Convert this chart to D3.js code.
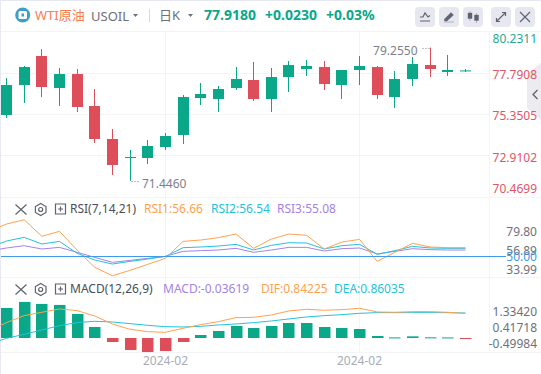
<!DOCTYPE html>
<html>
<head>
<meta charset="utf-8">
<script src="https://cdn.jsdelivr.net/npm/d3@7"></script>
<style>
  html, body { margin: 0; padding: 0; background: #fff; overflow: hidden; }
  text { font-family: "Noto Sans", "Noto Sans CJK SC", sans-serif; }
</style>
</head>
<body>
<div id="chart"></div>
<script>
// Candles: one entry per daily bar
const opens  = [75.303, 77.062, 78.763, 76.886, 77.707, 75.831, 73.895, 72.781, 72.781, 73.426, 74.130, 76.300, 76.241, 76.886, 77.356, 76.241, 77.532, 78.001, 78.118, 77.062, 77.942, 78.118, 76.358, 77.414, 78.235, 77.825, 77.895];
const highs  = [77.473, 78.177, 79.174, 78.059, 78.001, 76.828, 74.482, 73.250, 73.837, 74.247, 76.476, 77.180, 77.004, 78.118, 78.411, 78.059, 78.470, 78.529, 78.470, 77.942, 78.763, 78.177, 77.883, 78.705, 79.255, 78.822, 78.001];
const lows   = [75.127, 76.007, 76.358, 75.831, 75.479, 73.661, 71.784, 71.446, 72.429, 73.250, 73.602, 75.889, 75.479, 76.769, 76.124, 75.479, 76.652, 77.590, 76.769, 76.241, 77.062, 76.241, 75.713, 77.004, 77.532, 77.590, 77.825];
const closes = [77.062, 78.118, 76.945, 77.707, 75.772, 73.895, 72.370, 72.839, 73.485, 74.071, 76.358, 76.534, 76.828, 77.414, 76.241, 77.532, 78.235, 78.177, 77.121, 77.942, 78.177, 76.476, 77.414, 78.294, 78.001, 77.942, 77.918];

// Indicators have one extra leading value, the bar just off the left edge
const rsi1 = [80.6, 89.4, 94.6, 74.6, 80.6, 58.1, 37.2, 27.1, 33.6, 40.8, 48.0, 68.5, 70.1, 73.0, 77.4, 60.1, 71.3, 77.4, 75.8, 59.3, 67.7, 70.9, 44.4, 55.3, 66.1, 61.7, 60.9, 60.9];
const rsi2 = [60.9, 68.9, 73.4, 65.3, 68.5, 54.1, 46.0, 41.2, 44.4, 47.2, 50.4, 60.9, 61.7, 62.9, 64.9, 58.1, 63.7, 66.9, 66.5, 59.3, 63.3, 64.9, 52.9, 57.3, 62.5, 60.5, 60.1, 60.1];
const rsi3 = [56.9, 60.5, 63.3, 59.3, 61.3, 55.3, 49.2, 43.2, 45.6, 48.0, 50.4, 56.5, 57.3, 58.1, 60.1, 55.3, 58.1, 61.3, 61.3, 56.9, 59.7, 60.5, 53.3, 56.5, 59.7, 58.5, 58.1, 58.1];
const dif  = [0.241, 0.529, 0.770, 0.885, 1.000, 0.942, 0.758, 0.483, 0.299, 0.218, 0.195, 0.333, 0.460, 0.563, 0.701, 0.712, 0.793, 0.931, 0.988, 0.954, 0.977, 1.023, 0.896, 0.885, 0.908, 0.908, 0.885, 0.84225];
const dea  = [-0.207, -0.011, 0.126, 0.276, 0.425, 0.529, 0.575, 0.552, 0.494, 0.437, 0.391, 0.379, 0.402, 0.448, 0.483, 0.529, 0.586, 0.655, 0.724, 0.770, 0.804, 0.850, 0.873, 0.873, 0.873, 0.873, 0.873, 0.86035];
const macd = [1.034, 1.241, 1.172, 1.138, 0.827, 0.379, -0.138, -0.414, -0.483, -0.448, -0.138, 0.103, 0.241, 0.414, 0.345, 0.414, 0.517, 0.517, 0.379, 0.345, 0.310, 0.069, 0.02, 0.057, 0.023, 0.02, -0.03619];

// Axis labels
const priceTicks = [80.2311, 77.7908, 75.3505, 72.9102, 70.4699];
const rsiTicks = [79.80, 56.89, 33.99];
const macdTicks = [1.33420, 0.41718, -0.49984];
const dateBars = [9, 20];
const dateLabels = ['2024-02', '2024-02'];

const GREEN = '#0aa789', RED = '#dd4d5a', ORANGE = '#ffa24f', CYAN = '#25c2dd', PURPLE = '#a582ea';
const GRID = '#f3f4f8', ICON = '#5f636f';
const W = 541, H = 374;

const svg = d3.select('#chart').append('svg')
    .attr('width', W)
    .attr('height', H)
    .style('display', 'block');

// Scales
const x = d3.scaleLinear().domain([0, 26]).range([6.5, 465.5]);
const y = d3.scaleLinear().domain([70.4699, 80.2311]).range([197.4, 31]);
const yRsi = d3.scaleLinear().domain([33.99, 79.80]).range([270, 232]);
const yMacd = d3.scaleLinear().domain([0, 0.86035]).range([338, 313]);
const yMacdLabel = d3.scaleLinear().domain([-0.49984, 1.33420]).range([344, 311.7]);
const px = i => Math.floor(x(i)) + 0.5;

// Frame and grid
svg.append('rect').attr('x', 0).attr('y', 0).attr('width', W).attr('height', 1).attr('fill', '#e6e9f3');
svg.append('rect').attr('x', 0).attr('y', 0).attr('width', 1).attr('height', H).attr('fill', '#e6e9f3');

const hLine = (yy, x2) => svg.append('line')
    .attr('x1', 1).attr('x2', x2).attr('y1', yy).attr('y2', yy)
    .attr('stroke', GRID).attr('stroke-width', 1);
[31.5, 197.5, 277.5, 352.5].forEach(v => hLine(v, W));
[73.5, 114.5, 155.5].forEach(v => hLine(v, 489.5));

dateBars.concat([null]).forEach(b => {
    const xx = b === null ? 489.5 : px(b);
    svg.append('line')
        .attr('x1', xx).attr('x2', xx).attr('y1', 32).attr('y2', 352)
        .attr('stroke', GRID);
});

// Candles
const candles = svg.append('g').selectAll('g')
    .data(d3.range(opens.length))
    .enter()
    .append('g')
    .attr('fill', i => closes[i] >= opens[i] ? GREEN : RED)
    .attr('stroke', i => closes[i] >= opens[i] ? GREEN : RED);

candles.append('line')
    .attr('x1', px).attr('x2', px)
    .attr('y1', i => y(highs[i]))
    .attr('y2', i => y(lows[i]));

candles.append('rect')
    .attr('stroke', 'none')
    .attr('x', i => px(i) - 5.5)
    .attr('width', 11)
    .attr('y', i => y(Math.max(opens[i], closes[i])))
    .attr('height', i => Math.max(1, Math.abs(y(opens[i]) - y(closes[i]))));

// High and low markers
const marker = (bar, value, text, side, gap) => {
    const xx = px(bar), yy = Math.round(y(value)) + 0.5;
    svg.append('line')
        .attr('x1', xx + side).attr('x2', xx + side * 10)
        .attr('y1', yy).attr('y2', yy)
        .attr('stroke', '#7c7f8b').attr('stroke-dasharray', '1,2');
    svg.append('text')
        .attr('x', xx + side * gap)
        .attr('y', yy + 6)
        .attr('text-anchor', side > 0 ? 'start' : 'end')
        .attr('fill', '#7c7f8b')
        .style('font-size', '12px')
        .text(text);
};
marker(24, highs[24], highs[24].toFixed(4), -1, 13);
marker(7, lows[7], lows[7].toFixed(4), 1, 11.5);

// Collapse tab on the right edge, sits behind the labels
svg.append('path')
    .attr('d', 'M541,63 L527,74 L527,108 L541,120 Z')
    .attr('fill', '#ebebf0');
svg.append('path')
    .attr('d', 'M537.5,90 L533,94.5 L537.5,99')
    .attr('fill', 'none').attr('stroke', ICON).attr('stroke-width', 1.3);

// Price axis labels, clamped to stay inside the pane
svg.append('g').selectAll('text')
    .data(priceTicks)
    .enter()
    .append('text')
    .attr('x', 537)
    .attr('y', d => Math.min(189, Math.max(39, y(d) + 2)) + 4)
    .attr('text-anchor', 'end')
    .attr('fill', d => d > 78 ? '#26a98f' : '#df5664')
    .style('font-size', '12px')
    .text(d => d.toFixed(4));

// Indicator lines
const lineOf = scale => d3.line().x((d, i) => x(i - 1)).y(d => scale(d));
const drawLine = (values, scale, color) => svg.append('path')
    .attr('d', lineOf(scale)(values))
    .attr('fill', 'none')
    .attr('stroke', color)
    .attr('stroke-width', 1);

// RSI pane
drawLine(rsi3, yRsi, PURPLE);
drawLine(rsi2, yRsi, CYAN);
drawLine(rsi1, yRsi, ORANGE);
svg.append('line')
    .attr('x1', 1).attr('x2', 506)
    .attr('y1', 256.5).attr('y2', 256.5)
    .attr('stroke', '#3f9bea');

svg.append('g').selectAll('text')
    .data(rsiTicks)
    .enter()
    .append('text')
    .attr('x', 537)
    .attr('y', d => yRsi(d) + 4)
    .attr('text-anchor', 'end')
    .attr('fill', '#6e717c')
    .style('font-size', '12px')
    .text(d => d.toFixed(2));
svg.append('text')
    .attr('x', 537).attr('y', yRsi(50) + 4)
    .attr('text-anchor', 'end')
    .attr('fill', '#3f9bea')
    .style('font-size', '12px')
    .text('50.00');

// MACD pane
svg.append('g').selectAll('rect')
    .data(macd)
    .enter()
    .append('rect')
    .attr('x', (d, i) => px(i) - 5.5)
    .attr('width', 11.5)
    .attr('y', d => d >= 0 ? yMacd(d) : yMacd(0))
    .attr('height', d => Math.max(1, Math.abs(yMacd(d) - yMacd(0))))
    .attr('fill', d => d >= 0 ? GREEN : RED);

drawLine(dea, yMacd, CYAN);
drawLine(dif, yMacd, ORANGE);

svg.append('g').selectAll('text')
    .data(macdTicks)
    .enter()
    .append('text')
    .attr('x', 537)
    .attr('y', d => yMacdLabel(d) + 4)
    .attr('text-anchor', 'end')
    .attr('fill', '#6e717c')
    .style('font-size', '12px')
    .text(d => d.toFixed(5));

// Date labels
dateBars.forEach((b, i) => {
    svg.append('text')
        .attr('x', px(b))
        .attr('y', 365)
        .attr('text-anchor', 'middle')
        .attr('fill', '#a9acb8')
        .style('font-size', '12px')
        .text(dateLabels[i]);
});

// Text helper for the header and pane legends
const label = (xx, yy, text, color, size, weight) => svg.append('text')
    .attr('x', xx).attr('y', yy)
    .attr('fill', color)
    .style('font-size', size + 'px')
    .style('font-weight', weight || 400)
    .text(text);

// Header
svg.append('circle').attr('cx', 22.7).attr('cy', 15).attr('r', 7.5).attr('fill', '#3d9fc9');
svg.append('rect').attr('x', 18.5).attr('y', 11).attr('width', 8.5).attr('height', 8).attr('rx', 1.5).attr('fill', '#fff');
svg.append('rect').attr('x', 21.5).attr('y', 13.5).attr('width', 2.5).attr('height', 3).attr('fill', '#3d9fc9');
label(35, 20, 'WTI原油', '#ff7b4f', 13);
label(91, 21, 'USOIL', '#6d707b', 13);
label(159, 20, '日K', '#6d707b', 13);
label(204, 20, '77.9180', GREEN, 14, 700);
label(265, 20, '+0.0230', GREEN, 14, 700);
label(326, 20, '+0.03%', GREEN, 14, 700);

[[133, 14], [188, 14]].forEach(p => {
    svg.append('path')
        .attr('d', `M${p[0]},${p[1]} h5 l-2.5,3 Z`)
        .attr('fill', '#6d707b');
});
svg.append('line')
    .attr('x1', 149.5).attr('x2', 149.5).attr('y1', 9).attr('y2', 22)
    .attr('stroke', '#d5d8e0');

// Toolbar buttons
[415, 439, 463, 491, 515].forEach(bx => {
    svg.append('rect')
        .attr('x', bx).attr('y', 7)
        .attr('width', 20).attr('height', 20)
        .attr('rx', 4)
        .attr('fill', '#e7e8ef');
});
const icon = (d, fill) => svg.append('path')
    .attr('d', d)
    .attr('fill', fill ? ICON : 'none')
    .attr('stroke', ICON)
    .attr('stroke-width', fill ? 0.4 : 1.2);
icon('M420,17 L423,17 L425,13 L428,17 L430,15.5 M420,21 H430');
icon('M444.5,19 L451,12.5 L453.5,15 L447,21 L444.5,21 Z M444,22 H454', true);
icon('M468,13 H472 V18.5 H468 Z M470,11 V21 M474.5,15 H478.5 V20.5 H474.5 Z M476.5,13 V23', true);
icon('M496.5,21.5 L505.5,12.5 M502,12.5 H505.5 V16 M496.5,18 V21.5 H500');
icon('M520,12 L530,22 M530,12 L520,22');

// Pane legends
const paneTools = yy => {
    icon(`M15.5,${yy - 5} L26.5,${yy + 5} M26.5,${yy - 5} L15.5,${yy + 5}`);
    icon(`M40.7,${yy - 6} L46,${yy - 3} V${yy + 3} L40.7,${yy + 6} L35.4,${yy + 3} V${yy - 3} Z`);
    svg.append('circle').attr('cx', 40.7).attr('cy', yy).attr('r', 2)
        .attr('fill', 'none').attr('stroke', ICON).attr('stroke-width', 1.2);
    icon(`M55.5,${yy - 5.5} H65.5 V${yy + 4.5} H55.5 Z M60.5,${yy - 3} V${yy + 2} M58,${yy - 0.5} H63`);
};
paneTools(209.5);
paneTools(289.5);

label(70, 213, 'RSI(7,14,21)', '#4a4d57', 12);
label(144, 213, 'RSI1:56.66', ORANGE, 12);
label(211, 213, 'RSI2:56.54', CYAN, 12);
label(277, 213, 'RSI3:55.08', PURPLE, 12);

label(70, 293, 'MACD(12,26,9)', '#4a4d57', 12);
label(163, 293, 'MACD:-0.03619', PURPLE, 12);
label(261, 293, 'DIF:0.84225', ORANGE, 12);
label(334, 293, 'DEA:0.86035', CYAN, 12);
</script>
</body>
</html>
